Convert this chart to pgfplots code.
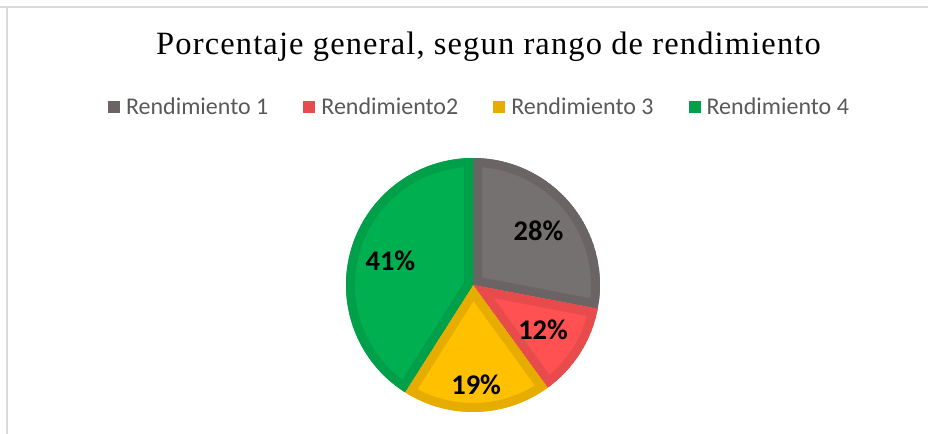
\documentclass[border=0pt]{standalone}
\usepackage{pgfplots}
\usepackage{pgfplotstable}
\pgfplotsset{compat=1.18}
\usepackage{fontspec}
\setmainfont{Liberation Serif}
\newfontfamily\titlefont[LetterSpace=3.5]{Liberation Serif}
\newfontfamily\calibri{Carlito}

\definecolor{grayF}{HTML}{767171}
\definecolor{grayB}{HTML}{6A6564}
\definecolor{redF}{HTML}{FF5151}
\definecolor{redB}{HTML}{E84B4B}
\definecolor{yelF}{HTML}{FFC000}
\definecolor{yelB}{HTML}{E6AD00}
\definecolor{greF}{HTML}{00B050}
\definecolor{greB}{HTML}{00A04A}
\definecolor{legtext}{HTML}{595959}
\definecolor{framec}{HTML}{D9D9D9}

\pgfplotstableread[col sep=comma]{
label,value,dist
Rendimiento 1,28,85
Rendimiento2,12,83
Rendimiento 3,19,100
Rendimiento 4,41,86
}\piedata

\pgfplotstablegetelem{0}{value}\of\piedata \let\vA\pgfplotsretval
\pgfplotstablegetelem{1}{value}\of\piedata \let\vB\pgfplotsretval
\pgfplotstablegetelem{2}{value}\of\piedata \let\vC\pgfplotsretval
\pgfplotstablegetelem{3}{value}\of\piedata \let\vD\pgfplotsretval
\pgfplotstablegetelem{0}{dist}\of\piedata \let\dA\pgfplotsretval
\pgfplotstablegetelem{1}{dist}\of\piedata \let\dB\pgfplotsretval
\pgfplotstablegetelem{2}{dist}\of\piedata \let\dC\pgfplotsretval
\pgfplotstablegetelem{3}{dist}\of\piedata \let\dD\pgfplotsretval

\pgfmathsetmacro\aA{90}
\pgfmathsetmacro\aB{\aA-3.6*\vA}
\pgfmathsetmacro\aC{\aB-3.6*\vB}
\pgfmathsetmacro\aD{\aC-3.6*\vC}
\pgfmathsetmacro\aE{\aD-3.6*\vD}
\pgfmathsetmacro\mA{(\aA+\aB)/2}
\pgfmathsetmacro\mB{(\aB+\aC)/2}
\pgfmathsetmacro\mC{(\aC+\aD)/2}
\pgfmathsetmacro\mD{(\aD+\aE)/2}

\newcommand{\cx}{473}
\newcommand{\cy}{149}
\newcommand{\slice}[4]{%
  \begin{scope}
    \clip (axis cs:\cx,\cy) -- ++(#1:127bp) arc[start angle=#1, end angle=#2, radius=127bp] -- cycle;
    \filldraw[fill=#3, draw=#4, line width=18bp, line join=miter]
      (axis cs:\cx,\cy) -- ++(#1:127bp) arc[start angle=#1, end angle=#2, radius=127bp] -- cycle;
  \end{scope}}
\newcommand{\slicelabel}[3]{%
  \path (axis cs:\cx,\cy) ++(#1:#2 bp) node[font=\calibri\bfseries\fontsize{28.5bp}{33bp}\selectfont, text=black, inner sep=0pt] {#3\%};}

\begin{document}
\begin{tikzpicture}
\begin{axis}[
  width=928bp, height=434bp, scale only axis,
  xmin=0, xmax=928, ymin=0, ymax=434,
  hide axis, clip=false,
  legend columns=4,
  legend image code/.code={\fill[#1] (0bp,-6bp) rectangle (12bp,6bp);},
  legend style={
    at={(axis cs:478.5,327)}, anchor=center,
    draw=none, fill=none, inner sep=0pt, outer sep=0pt,
    font=\calibri\fontsize{24bp}{28bp}\selectfont, text=legtext,
    column sep=6bp,
    nodes={inner sep=0pt},
    /tikz/every even column/.append style={column sep=35bp},
  },
]
\addlegendimage{fill=grayB, draw=none}
\addlegendimage{fill=redB, draw=none}
\addlegendimage{fill=yelB, draw=none}
\addlegendimage{fill=greB, draw=none}
\legend{Rendimiento 1, Rendimiento2, Rendimiento 3, Rendimiento 4}

\draw[framec, line width=1.5bp] (axis cs:0,427) -- (axis cs:928,427);
\draw[framec, line width=1.5bp] (axis cs:7,427) -- (axis cs:7,0);

\node[anchor=base, inner sep=0pt, font=\titlefont\fontsize{32.5bp}{39bp}\selectfont] at (axis cs:488.5,379) {Porcentaje general, segun rango de rendimiento};

\slice{\aA}{\aB}{grayF}{grayB}
\slice{\aB}{\aC}{redF}{redB}
\slice{\aC}{\aD}{yelF}{yelB}
\slice{\aD}{\aE}{greF}{greB}

\slicelabel{\mA}{\dA}{\vA}
\slicelabel{\mB}{\dB}{\vB}
\slicelabel{\mC}{\dC}{\vC}
\slicelabel{\mD}{\dD}{\vD}
\end{axis}
\pgfresetboundingbox
\useasboundingbox (0,0) rectangle (928bp,434bp);
\end{tikzpicture}
\end{document}
